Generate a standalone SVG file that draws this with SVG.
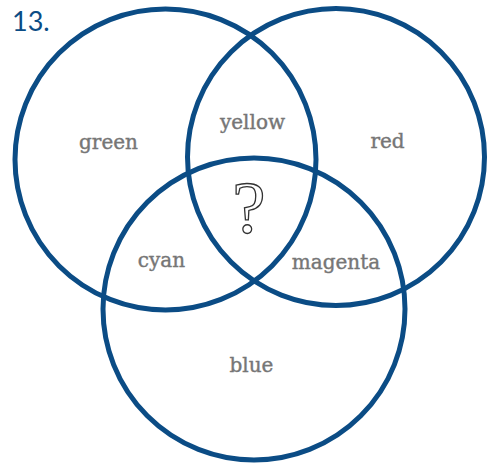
<svg xmlns="http://www.w3.org/2000/svg" width="487" height="463" viewBox="0 0 487 463">
<style>
.c{fill:none;stroke:#0b4c85;stroke-width:5}
.l{font-family:"DejaVu Serif",serif;font-size:20px;fill:#767676;stroke:#767676;stroke-width:0.4;text-anchor:middle}
</style>
<rect width="487" height="463" fill="#fff"/>
<text x="12" y="31" font-family="Lato,sans-serif" font-size="27" fill="#0b4c85">13.</text>
<g id="circles">
<g id="green-circle"><circle class="c" cx="165.5" cy="159.5" r="150.5"/></g>
<g id="red-circle"><circle class="c" cx="336" cy="157" r="148.5"/></g>
<g id="blue-circle"><circle class="c" cx="254" cy="309" r="151"/></g>
</g>
<g id="labels">
<g id="green"><text class="l" x="108.5" y="149">green</text></g>
<g id="yellow"><text class="l" x="252.5" y="129">yellow</text></g>
<g id="red"><text class="l" x="387.5" y="148">red</text></g>
<g id="cyan"><text class="l" x="161.5" y="267">cyan</text></g>
<g id="magenta"><text class="l" x="336" y="269">magenta</text></g>
<g id="blue"><text class="l" x="251.5" y="372">blue</text></g>
<g id="question"><text x="249" y="233" font-family="Liberation Serif,serif" font-size="75" fill="#fff" stroke="#333" stroke-width="1.3" text-anchor="middle">?</text></g>
</g>
</svg>
